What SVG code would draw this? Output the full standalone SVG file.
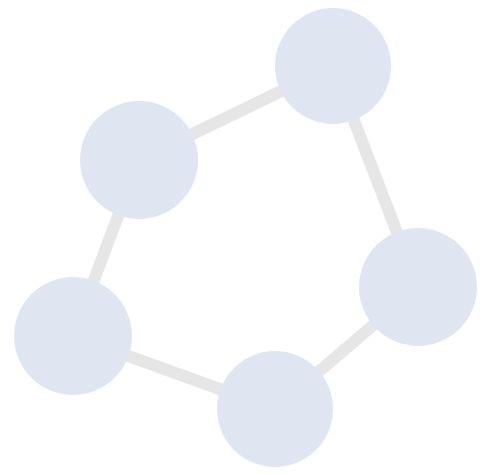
<svg xmlns="http://www.w3.org/2000/svg" width="481" height="474" viewBox="0 0 481 474">
<style>
.e{stroke:#e6e6e6;stroke-width:12;fill:none}
.n{fill:#dfe6f2}
</style>
<rect width="481" height="474" fill="#ffffff"/>
<g id="connectors">
<line class="e" x1="333" y1="66" x2="139" y2="160"/>
<line class="e" x1="139" y1="160" x2="73" y2="336"/>
<line class="e" x1="73" y1="336" x2="275" y2="409"/>
<line class="e" x1="275" y1="409" x2="418" y2="287"/>
<line class="e" x1="418" y1="287" x2="333" y2="66"/>
</g>
<g id="node1"><circle class="n" cx="333" cy="66" r="58"/></g>
<g id="node2"><circle class="n" cx="139" cy="160" r="59"/></g>
<g id="node3"><circle class="n" cx="73" cy="336" r="59"/></g>
<g id="node4"><circle class="n" cx="275" cy="409" r="58"/></g>
<g id="node5"><circle class="n" cx="418" cy="287" r="59"/></g>
</svg>
